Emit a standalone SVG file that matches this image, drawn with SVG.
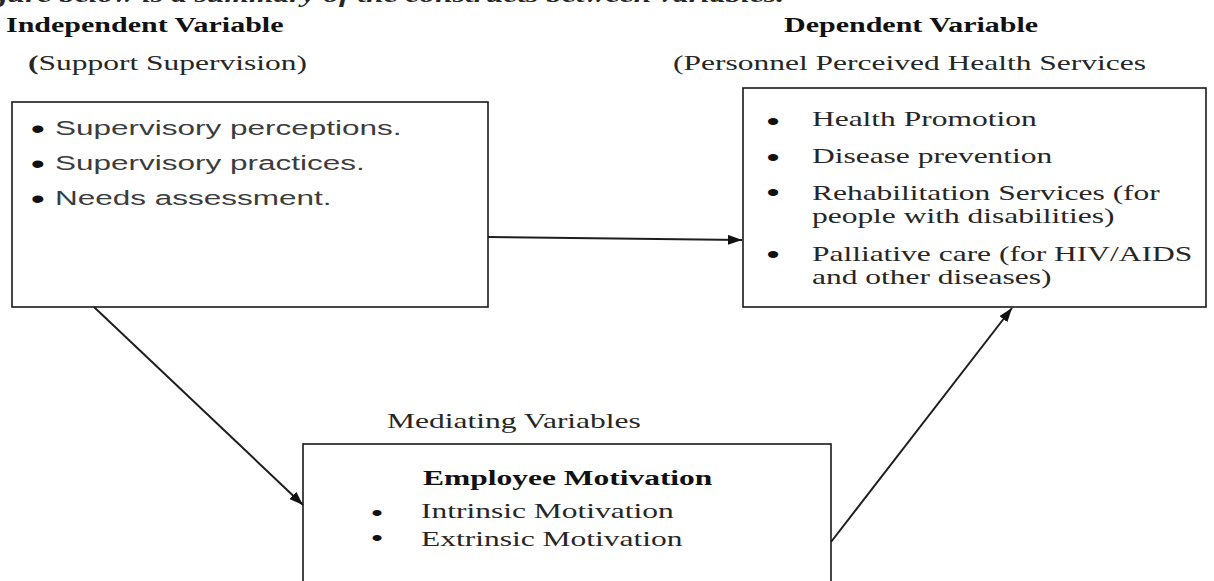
<svg xmlns="http://www.w3.org/2000/svg" width="1214" height="581" viewBox="0 0 1214 581">
  <style>
    .box { fill: #ffffff; stroke: #1a1a1a; stroke-width: 1.6; }
    .serif { font-family: "Liberation Serif", "Times New Roman", serif; font-size: 21px; fill: #262626; }
    .sans { font-family: "Liberation Sans", Arial, sans-serif; font-size: 21px; fill: #3c3c3c; }
    .head { font-family: "Liberation Serif", "Times New Roman", serif; font-size: 20px; font-weight: bold; fill: #111111; }
    .bold { font-weight: bold; fill: #111111; }
    .dot { font-family: "Liberation Sans", Arial, sans-serif; font-size: 25px; fill: #111111; text-anchor: middle; }
    .dot-lg { font-size: 27px; }
    .dot-sm { font-size: 22px; }
    .link { fill: none; stroke: #1e1e1e; stroke-width: 2; marker-end: url(#arrow); }
  </style>
  <defs>
    <marker id="arrow" markerUnits="userSpaceOnUse" markerWidth="15" markerHeight="11" refX="14" refY="5" orient="auto">
      <path d="M0,0 L14,5 L0,10 z" fill="#111111"/>
    </marker>
  </defs>

  <rect width="1214" height="581" fill="#ffffff"/>

  <!-- caption line running off the top edge -->
  <text class="serif" transform="scale(1.5 1)" x="522.7" y="2" text-anchor="end" font-style="italic" font-weight="bold" fill="#111111">The figure below is a summary of the constructs between variables.</text>

  <!-- column headings -->
  <g id="heading-independent" transform="scale(1.5 1)">
    <text class="head" x="4" y="32">Independent Variable</text>
    <text class="serif" x="18.7" y="70"><tspan font-weight="bold">(</tspan>Support Supervision)</text>
  </g>
  <g id="heading-dependent" transform="scale(1.5 1)">
    <text class="head" x="522.7" y="32">Dependent Variable</text>
    <text class="serif" x="448.7" y="70">(Personnel Perceived Health Services</text>
  </g>

  <!-- independent variable: support supervision -->
  <g id="support-supervision">
    <rect class="box" x="12" y="102" width="476" height="205"/>
    <g transform="scale(1.5 1)">
      <text class="dot dot-lg" x="25.3" y="138">•</text>
      <text class="dot dot-lg" x="25.3" y="173">•</text>
      <text class="dot dot-lg" x="25.3" y="208">•</text>
      <text class="sans" x="36.7" y="135">Supervisory perceptions.</text>
      <text class="sans" x="36.7" y="170">Supervisory practices.</text>
      <text class="sans" x="36.7" y="205">Needs assessment.</text>
    </g>
  </g>

  <!-- dependent variable: perceived health services -->
  <g id="health-services">
    <rect class="box" x="743" y="88" width="463" height="219"/>
    <g transform="scale(1.5 1)">
      <text class="dot" x="515.3" y="130">•</text>
      <text class="dot" x="515.3" y="166">•</text>
      <text class="dot" x="515.3" y="201">•</text>
      <text class="dot" x="515.3" y="263">•</text>
      <text class="serif" x="541.3" y="126">Health Promotion</text>
      <text class="serif" x="541.3" y="163">Disease prevention</text>
      <text class="serif" x="541.3" y="200">Rehabilitation Services (for</text>
      <text class="serif" x="541.3" y="223">people with disabilities)</text>
      <text class="serif" x="541.3" y="261">Palliative care (for HIV/AIDS</text>
      <text class="serif" x="541.3" y="284">and other diseases)</text>
    </g>
  </g>

  <!-- mediating variable: employee motivation -->
  <g id="employee-motivation">
    <text class="serif" transform="scale(1.5 1)" x="258" y="428">Mediating Variables</text>
    <rect class="box" x="303" y="444" width="528" height="160"/>
    <g transform="scale(1.5 1)">
      <text class="serif bold" x="282" y="485">Employee Motivation</text>
      <text class="dot dot-sm" x="251.3" y="520">•</text>
      <text class="dot dot-sm" x="251.3" y="545">•</text>
      <text class="serif" x="280.7" y="518">Intrinsic Motivation</text>
      <text class="serif" x="280.7" y="546">Extrinsic Motivation</text>
    </g>
  </g>

  <!-- connectors -->
  <g id="connectors">
    <path class="link" d="M488,237 L742,240"/>
    <path class="link" d="M94,307 L303,505"/>
    <path class="link" d="M831,542 L1012,308"/>
  </g>
</svg>
